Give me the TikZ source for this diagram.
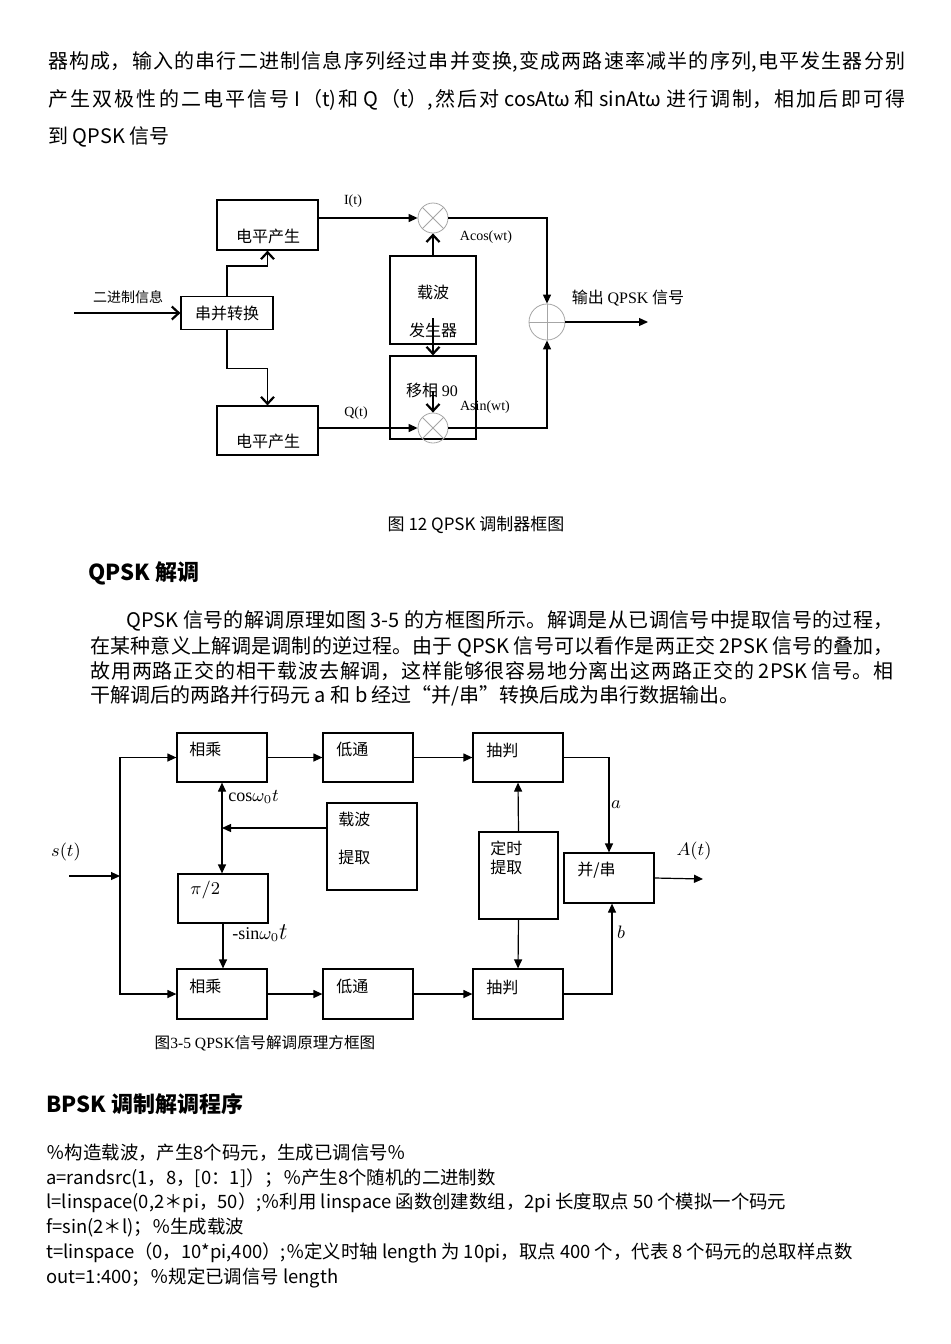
\documentclass[tikz,border=0pt]{standalone}
\usepackage{fontspec}
\setmainfont{Noto Sans CJK SC}
\newfontfamily\tnr{Liberation Serif}
\usetikzlibrary{arrows.meta}
\XeTeXlinebreaklocale "zh"
\XeTeXlinebreakskip=0pt plus 1fil
\newcommand{\fullline}[2]{\parbox{#1}{\parfillskip=0pt\relax #2}}
\begin{document}
\begin{tikzpicture}[x=0.5pt,y=-0.5pt,
    body/.style={anchor=west,inner sep=0pt,font=\fontsize{10}{12}\selectfont},
    code/.style={anchor=west,inner sep=0pt,font=\fontsize{9.2}{11}\selectfont},
    head/.style={anchor=west,inner sep=0pt,font=\fontsize{11}{13}\selectfont\bfseries},
    box/.style 2 args={draw,line width=0.6pt,inner sep=0pt,minimum width=#1*0.5pt,minimum height=#2*0.5pt},
    tag/.style={inner sep=0pt,font=\fontsize{8}{9}\selectfont},
    ltag/.style={tag,font=\tnr\fontsize{7}{8}\selectfont},
    mtag/.style={tag,font=\fontsize{9}{10}\selectfont},
    mix/.style={draw=gray!70,line width=0.4pt,circle,inner sep=0pt,minimum size=#1*0.5pt},
    barb/.style={line width=0.6pt,-{Straight Barb[length=3.5pt,width=6.5pt,line width=1.1pt]}},
    tri/.style={line width=0.6pt,-{Triangle[length=4.5pt,width=4pt]}}]
\useasboundingbox (0,0) rectangle (950,1344);

% text above
\node[body] (l1) at (48,62) {\fullline{428.5pt}{器构成，输入的串行二进制信息序列经过串并变换,变成两路速率减半的序列,电平发生器分别}};
\node[body] (l2) at (48,100) {\fullline{428.5pt}{产生双极性的二电平信号 I（t)和 Q（t）,然后对 cosAtω 和 sinAtω 进行调制，相加后即可得}};
\node[body] (l3) at (48,137) {到 QPSK 信号};

% modulator
\node[box={92}{33},tag] (sp) at (227,313) {串并转换};
\node[box={101}{50}] (lvlI) at (267.5,225) {};
\node[tag] (lvlItxt) at (268,236) {电平产生};
\node[box={101}{49}] (lvlQ) at (267.5,430.5) {};
\node[tag] (lvlQtxt) at (268,441) {电平产生};
\node[box={86}{88}] (car) at (433,300) {};
\node[tag] (cartxt1) at (433,292) {载波};
\node[tag] (cartxt2) at (433,330) {发生器};
\node[box={86}{83}] (shift) at (433,397.5) {};
\node[tag] (shifttxt) at (432,390) {移相 {\tnr 90}};
\node[mix=30] (mulI) at (433,218) {};
\node[mix=30] (mulQ) at (433,428) {};
\node[mix=36] (add) at (547,322) {};
\draw[gray!70,line width=0.4pt] (mulI.north west) -- (mulI.south east) (mulI.north east) -- (mulI.south west);
\draw[gray!70,line width=0.4pt] (mulQ.north west) -- (mulQ.south east) (mulQ.north east) -- (mulQ.south west);
\draw[gray!70,line width=0.4pt] (add.north) -- (add.south) (add.west) -- (add.east);

\node[tag,font=\fontsize{7}{8}\selectfont] (bin) at (128,297) {二进制信息};
\node[ltag] (It) at (353,201) {I(t)};
\node[ltag] (Qt) at (356,413) {Q(t)};
\node[ltag] (acos) at (486,237) {Acos(wt)};
\node[ltag] (asin) at (485,407) {Asin(wt)};
\node[tag] (outtxt) at (628,298) {输出 {\tnr QPSK} 信号};

\coordinate (binin) at (74,313);
\coordinate (qpsk) at (648,322);
\draw[barb] (binin) -- (sp.west);
\draw[barb] (sp.north) -- ++(0,-30) -| (lvlI.south);
\draw[barb] (sp.south) -- ++(0,38) -| (lvlQ.north);
\draw[tri] (mulI.west -| lvlI.east) -- (mulI.west);
\draw[tri] (mulQ.west -| lvlQ.east) -- (mulQ.west);
\draw[barb] (car.north) -- (mulI.south);
\draw[barb] ([yshift=-9pt]car.center) -- (shift.north);
\draw[barb] ([yshift=3.5pt]shift.center) -- (mulQ.north);
\draw[tri] (mulI.east) -| (add.north);
\draw[tri] (mulQ.east) -| (add.south);
\draw[tri] (add.east) -- (qpsk);

\node[tag,font=\fontsize{8.5}{10}\selectfont] (cap1) at (476,525) {图 12 QPSK 调制器框图};

% demodulation text
\node[head] (h1) at (88,573) {QPSK 解调};
\node[body] (p1) at (126,621) {\fullline{383.5pt}{QPSK 信号的解调原理如图 3-5 的方框图所示。解调是从已调信号中提取信号的过程，}};
\node[body] (p2) at (90,647) {\fullline{401.5pt}{在某种意义上解调是调制的逆过程。由于 QPSK 信号可以看作是两正交 2PSK 信号的叠加，}};
\node[body] (p3) at (90,671) {\fullline{401.5pt}{故用两路正交的相干载波去解调，这样能够很容易地分离出这两路正交的 2PSK 信号。相}};
\node[body] (p4) at (90,696) {干解调后的两路并行码元 a 和 b 经过“并/串\symbol{34}转换后成为串行数据输出。};

% demodulator
\node[box={90}{49}] (mulA) at (222,757.5) {};
\node[box={90}{49}] (lpA) at (368,757.5) {};
\node[box={90}{49}] (decA) at (518,757.5) {};
\node[box={90}{87}] (ext) at (372,846.5) {};
\node[box={90}{49}] (half) at (223,898.5) {};
\node[box={90}{50}] (mulB) at (222,994) {};
\node[box={90}{50}] (lpB) at (368,994) {};
\node[box={90}{50}] (decB) at (518,994) {};
\node[box={79}{87}] (tim) at (518.5,875.5) {};
\node[box={90}{50}] (ps) at (609,878) {};

\node[tag,anchor=west] (mulAtxt) at (189,749) {相乘};
\node[tag,anchor=west] (lpAtxt) at (336,749) {低通};
\node[tag,anchor=west] (decAtxt) at (486,750) {抽判};
\node[tag,anchor=west] (exttxt1) at (338,819) {载波};
\node[tag,anchor=west] (exttxt2) at (338,857) {提取};
\node[mtag,anchor=west] (halftxt) at (190,890) {$\pi/2$};
\node[tag,anchor=west] (mulBtxt) at (189,986) {相乘};
\node[tag,anchor=west] (lpBtxt) at (336,986) {低通};
\node[tag,anchor=west] (decBtxt) at (486,987) {抽判};
\node[tag,anchor=west] (timtxt1) at (490,848) {定时};
\node[tag,anchor=west] (timtxt2) at (490,867) {提取};
\node[tag,anchor=west] (pstxt) at (577,870) {并/串};

\node[mtag] (st) at (66,852) {$s(t)$};
\node[mtag] (At) at (694,851) {$A(t)$};
\node[mtag] (la) at (616,805) {$a$};
\node[mtag] (lb) at (621,932) {$b$};
\node[mtag,anchor=west] (cosl) at (228,797) {{\tnr cos}$\omega_0 t$};
\node[mtag,anchor=west] (sinl) at (232,933) {{\tnr -sin}$\omega_0${\large$t$}};

\coordinate (sin) at (69,876);
\coordinate (bus) at (120,876);
\coordinate (cj) at (222,828);
\coordinate (At0) at (703,879);
\draw[tri] (sin) -- (bus);
\draw[tri] (bus) |- (mulA.west);
\draw[tri] (bus) |- (mulB.west);
\draw[tri] (mulA.east) -- (lpA.west);
\draw[tri] (lpA.east) -- (decA.west);
\draw[tri] (mulB.east) -- (lpB.west);
\draw[tri] (lpB.east) -- (decB.west);
\draw[tri] (decA.east) -| (ps.north);
\draw[tri] (decB.east) -| ([xshift=1.5pt]ps.south);
\draw[tri] (ps.east) -- (At0);
\draw[tri] (tim.north) -- (decA.south);
\draw[tri] (tim.south) -- (decB.north);
\draw[tri] (cj -| ext.west) -- (cj);
\draw[tri] (cj) -- (mulA.south);
\draw[tri] (cj) -- (cj |- half.north);
\draw[tri] (half.south) -- (half.south |- mulB.north);

\node[tag,font=\fontsize{7.8}{9}\selectfont] (cap2) at (265,1043) {图{\tnr 3-5 QPSK}信号解调原理方框图};

% program
\node[head] (h2) at (46,1104) {BPSK 调制解调程序};
\node[code] (c1) at (46,1153) {％构造载波，产生8个码元，生成已调信号％};
\node[code] (c2) at (46,1178) {a=randsrc(1，8，[0：1]）；％产生8个随机的二进制数};
\node[code] (c3) at (46,1203) {l=linspace(0,2＊pi，50）;％利用 linspace 函数创建数组，2pi 长度取点 50 个模拟一个码元};
\node[code] (c4) at (46,1228) {f=sin(2＊l)；％生成载波};
\node[code] (c5) at (46,1253) {t=linspace（0，10*pi,400）;％定义时轴 length 为 10pi，取点 400 个，代表 8 个码元的总取样点数};
\node[code] (c6) at (46,1278) {out=1:400；％规定已调信号 length};
\end{tikzpicture}
\end{document}
